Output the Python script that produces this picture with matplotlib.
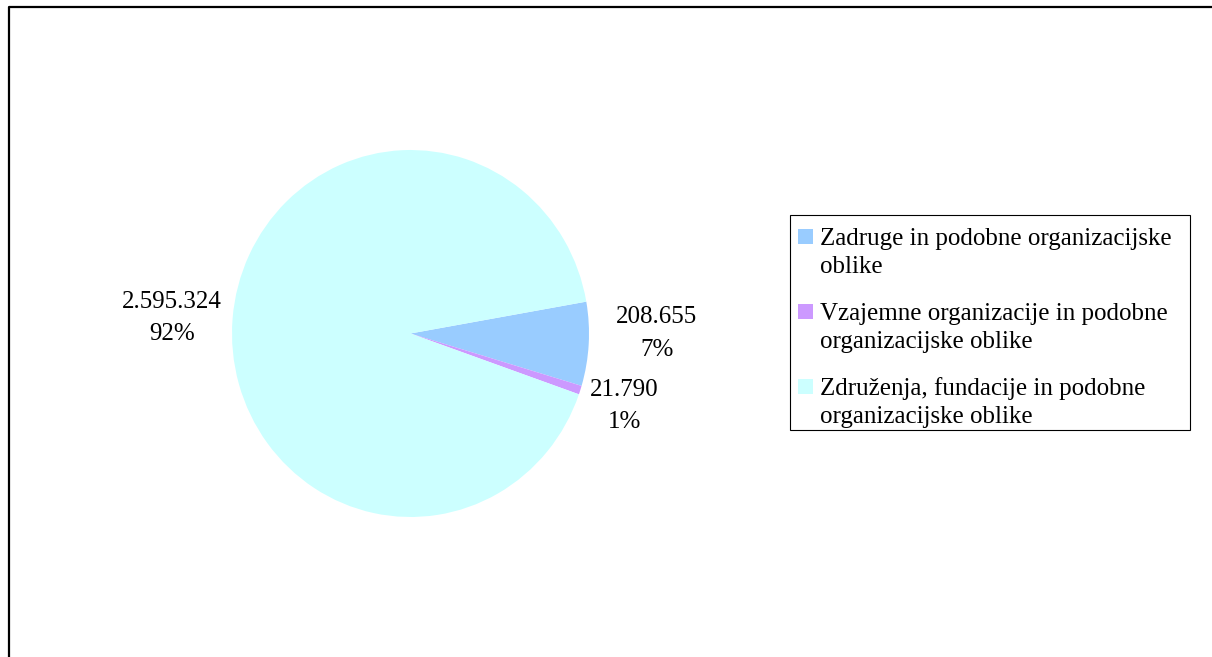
import numpy as np
import matplotlib.pyplot as plt
from matplotlib.lines import Line2D
from matplotlib.patches import Rectangle

plt.rcParams['font.family'] = ['Liberation Serif', 'DejaVu Serif']

categories = [
    'Zadruge in podobne organizacijske\noblike',
    'Vzajemne organizacije in podobne\norganizacijske oblike',
    'Združenja, fundacije in podobne\norganizacijske oblike',
]
values = [208655, 21790, 2595324]
colors = ['#99CCFF', '#CC99FF', '#CCFFFF']

W, H = 1212, 657
fig = plt.figure(figsize=(W / 100, H / 100), dpi=100)

# pie centre (410.5, 333.5) px, radii 178.5 x 183.5 px (slightly stretched like the original)
cx, cy, rx, ry = 410.5, 333.5, 178.5, 183.5
half = 250
ax = fig.add_axes([(cx - half) / W, (H - cy - half) / H, 2 * half / W, 2 * half / H])
wedges, _ = ax.pie(values, colors=colors, startangle=10, counterclock=False,
                   radius=1, wedgeprops=dict(linewidth=0))
ax.set_aspect('auto')
ax.set_xlim(-half / rx, half / rx)
ax.set_ylim(-half / ry, half / ry)
ax.axis('off')

total = sum(values)
dist = [1.38, 1.26, 1.34]
shift = [3.3, -0.2, 1.0]
for w, v, d, s in zip(wedges, values, dist, shift):
    ang = np.deg2rad((w.theta1 + w.theta2) / 2 + s)
    txt = f"{v:,}".replace(',', '.') + f"\n{round(v / total * 100)}%"
    ax.text(d * np.cos(ang), d * np.sin(ang), txt, ha='center', va='center',
            fontsize=18, linespacing=1.6)

# legend drawn by hand in pixel positions
def fx(x):
    return x / W

def fy(y):
    return 1 - y / H

fig.patches.append(Rectangle((fx(790), fy(430)), fx(1190) - fx(790), fy(215) - fy(430),
                             transform=fig.transFigure, fill=False,
                             edgecolor='black', linewidth=0.8))
for i, (lab, col) in enumerate(zip(categories, colors)):
    base = 245 + i * 75
    fig.patches.append(Rectangle((fx(798), fy(base - 1)), fx(15), 15 / H,
                                 transform=fig.transFigure, facecolor=col,
                                 edgecolor='none'))
    for j, line in enumerate(lab.split('\n')):
        fig.text(fx(820), fy(base + j * 28), line, ha='left', va='baseline',
                 fontsize=18)

# outer frame (top and left visible)
fig.lines.append(Line2D([fx(8.5), fx(8.5), fx(W)], [0, fy(6.5), fy(6.5)],
                        transform=fig.transFigure, color='black', linewidth=1.6))

fig.savefig('out.png', dpi=100)
